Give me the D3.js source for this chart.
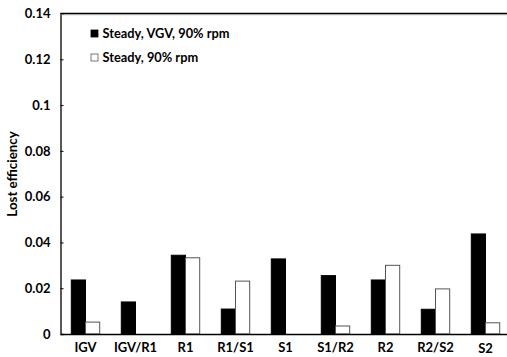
<!DOCTYPE html>
<html>
<head>
<meta charset="utf-8">
<script src="https://cdn.jsdelivr.net/npm/d3@7"></script>
<style>
  body { margin: 0; background: #fff; }
  text { font-family: Lato, "Open Sans", sans-serif; font-weight: bold; fill: #000; }
</style>
</head>
<body>
<svg width="507" height="357"></svg>
<script>
var categories = ['IGV', 'IGV/R1', 'R1', 'R1/S1', 'S1', 'S1/R2', 'R2', 'R2/S2', 'S2'];
var seriesNames = ['Steady, VGV, 90% rpm', 'Steady, 90% rpm'];
var vgvValues = [0.0236, 0.014, 0.0344, 0.0109, 0.0328, 0.0255, 0.0236, 0.0108, 0.0437];
var steadyValues = [0.0052, 0, 0.0333, 0.0231, 0, 0.0035, 0.030, 0.0197, 0.0049];
var yTicks = [0, 0.02, 0.04, 0.06, 0.08, 0.1, 0.12, 0.14];

var svg = d3.select('svg');
var plotL = 60.5, plotR = 510.5, plotT = 13.5, plotB = 334;

var x = d3.scaleBand()
  .domain(categories)
  .range([plotL, plotR]);

var sub = d3.scaleBand()
  .domain([0, 1])
  .range([0, 28.4]);

var y = d3.scaleLinear()
  .domain([0, 0.14])
  .range([plotB, plotT]);

var rows = categories.map(function(c, i) {
  return { cat: c, vals: [vgvValues[i], steadyValues[i]] };
});

var groups = svg.selectAll('.grp')
  .data(rows)
  .enter()
  .append('g')
  .attr('transform', d => 'translate(' + (x(d.cat) + x.bandwidth() / 2 - 14.2) + ',0)');

groups.selectAll('rect')
  .data(d => d.vals.map((v, k) => ({ v: v, k: k })).filter(e => e.v > 0))
  .enter()
  .append('rect')
  .attr('x', d => sub(d.k))
  .attr('width', sub.bandwidth())
  .attr('y', d => y(d.v))
  .attr('height', d => plotB - y(d.v))
  .attr('fill', d => d.k === 0 ? '#000' : '#fff')
  .attr('stroke', d => d.k === 0 ? '#000' : '#555')
  .attr('stroke-width', 1);

// y axis
var yAxis = d3.axisLeft(y)
  .tickValues(yTicks)
  .tickSize(-3)
  .tickFormat(d => d === 0 ? '0' : String(+d.toFixed(2)));

var ya = svg.append('g')
  .attr('transform', 'translate(' + plotL + ',0)')
  .call(yAxis);
ya.select('.domain').attr('stroke', '#000').attr('stroke-width', 1.3);
ya.selectAll('.tick line').attr('stroke', '#000');
ya.selectAll('.tick text')
  .style('font-size', '13px')
  .attr('x', -10);

// x axis
var xAxis = d3.axisBottom(x).tickSize(0).tickPadding(9);
var xa = svg.append('g')
  .attr('transform', 'translate(0,' + plotB + ')')
  .call(xAxis);
xa.select('.domain').attr('stroke', '#000').attr('stroke-width', 1.5);
xa.selectAll('.tick text')
  .style('font-size', '13px')
  .attr('dy', d => d === 'S2' ? '0.78em' : '0.7em');

// top border
svg.append('line')
  .attr('x1', plotL).attr('x2', plotR)
  .attr('y1', plotT).attr('y2', plotT)
  .attr('stroke', '#000')
  .attr('stroke-width', 1.6);
svg.append('line')
  .attr('x1', plotL).attr('x2', plotR)
  .attr('y1', plotT + 1.2).attr('y2', plotT + 1.2)
  .attr('stroke', '#999')
  .attr('stroke-width', 0.8);

// y title
svg.append('text')
  .attr('transform', 'translate(17,174) rotate(-90)')
  .attr('text-anchor', 'middle')
  .style('font-size', '13.3px')
  .text('Lost efficiency');

// legend
var legend = svg.selectAll('.leg')
  .data(seriesNames)
  .enter()
  .append('g')
  .attr('transform', (d, i) => 'translate(91,' + (30 + i * 24) + ')');
legend.append('rect')
  .attr('width', 7).attr('height', 7)
  .attr('fill', (d, i) => i === 0 ? '#000' : '#fff')
  .attr('stroke', (d, i) => i === 0 ? '#000' : '#555')
  .attr('stroke-width', 0.8);
legend.append('text')
  .attr('x', 11.5)
  .attr('y', 4)
  .attr('dy', '0.35em')
  .style('font-size', '12.8px')
  .text(d => d);
</script>
</body>
</html>
